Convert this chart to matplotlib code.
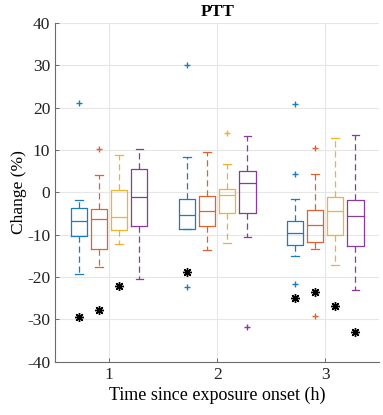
import numpy as np
import matplotlib
matplotlib.use("Agg")
from matplotlib import pyplot as plt

plt.rcParams['font.family'] = ['Liberation Serif', 'DejaVu Serif']
plt.rcParams['axes.unicode_minus'] = False

hours = [1, 2, 3]
colors = ['#1a7cc4', '#de6332', '#efb52a', '#8a3a9a']

# per series, values for hour 1, 2, 3
whis_hi = [[-1.8, 8.4, -1.5], [4.1, 9.6, 4.3], [8.9, 6.7, 12.8], [10.2, 13.3, 13.6]]
q3 = [[-3.8, -1.5, -6.7], [-4.0, -0.8, -4.2], [0.6, 0.8, -1.0], [5.5, 5.1, -1.8]]
med = [[-6.7, -5.3, -9.6], [-6.3, -4.4, -7.7], [-5.9, -0.7, -4.4], [-1.2, 2.2, -5.5]]
q1 = [[-10.4, -8.6, -12.4], [-13.3, -7.9, -11.6], [-9.0, -4.9, -10.0], [-7.9, -4.9, -12.6]]
whis_lo = [[-19.3, -8.7, -15.1], [-17.7, -13.6, -13.4], [-12.1, -12.0, -17.1], [-20.4, -10.6, -23.0]]
outliers = [
    [[21.2], [30.1, -22.4], [20.9, 4.4, -21.7]],
    [[10.2], [], [10.4, -29.1]],
    [[], [14.1], []],
    [[], [-31.7], []],
]
# significance markers (None = no marker)
stars = [
    [-29.3, -18.8, -25.0],
    [-27.8, None, -23.6],
    [-22.2, None, -26.9],
    [None, None, -33.0],
]

offsets = [-0.28, -0.093, 0.093, 0.28]

fig = plt.figure(figsize=(3.83, 4.15), dpi=100)
ax = fig.add_axes([0.144, 0.128, 0.846, 0.817])

for s in range(4):
    stats = []
    for g in range(3):
        stats.append(dict(med=med[s][g], q1=q1[s][g], q3=q3[s][g],
                          whislo=whis_lo[s][g], whishi=whis_hi[s][g],
                          fliers=outliers[s][g]))
    pos = [h + offsets[s] for h in hours]
    c = colors[s]
    ax.bxp(stats, positions=pos, widths=0.15, showfliers=True,
           boxprops=dict(color=c, linewidth=0.9),
           medianprops=dict(color=c, linewidth=0.9),
           whiskerprops=dict(color=c, linewidth=0.9, linestyle=(0, (5, 3))),
           capprops=dict(color=c, linewidth=0.9),
           capwidths=0.07,
           flierprops=dict(marker='+', markeredgecolor=c, markersize=5,
                           markeredgewidth=1.0, linestyle='none'))
    for g in range(3):
        if stars[s][g] is not None:
            ax.plot(hours[g] + offsets[s], stars[s][g], marker=(8, 2, 0),
                    color='black', markersize=6.5, markeredgewidth=1.0,
                    linestyle='none')

ax.set_xlim(0.5, 3.5)
ax.set_ylim(-40, 40)
ax.set_xticks(hours)
ax.set_xticklabels([str(h) for h in hours])
ax.set_yticks(np.arange(-40, 41, 10))
ax.grid(True, color='#e6e6e6', linewidth=0.8)
ax.set_axisbelow(True)
for sp in ['top', 'right']:
    ax.spines[sp].set_visible(False)
for sp in ['left', 'bottom']:
    ax.spines[sp].set_color('#6b6b6b')
    ax.spines[sp].set_linewidth(0.8)
ax.tick_params(direction='in', length=3, width=0.7, colors='#6b6b6b',
               labelsize=12.5, labelcolor='#222222')

ax.set_title('PTT', fontsize=12.5, fontweight='bold', pad=5)
ax.set_xlabel('Time since exposure onset (h)', fontsize=13, labelpad=3)
ax.set_ylabel('Change (%)', fontsize=12.5, labelpad=0)

plt.savefig('out.png', dpi=100)
